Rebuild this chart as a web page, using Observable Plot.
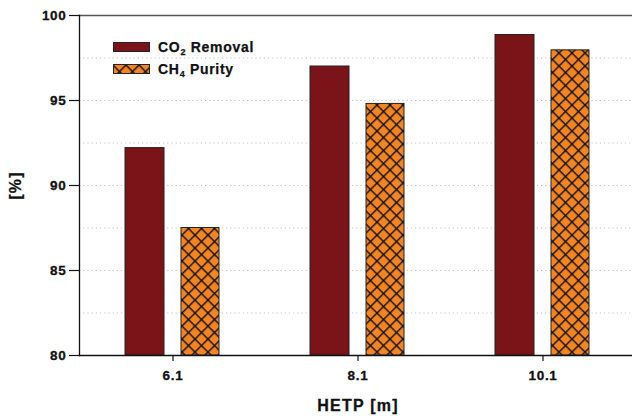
<!DOCTYPE html>
<html>
<head>
<meta charset="utf-8">
<script src="https://cdn.jsdelivr.net/npm/d3@7"></script>
<script src="https://cdn.jsdelivr.net/npm/@observablehq/plot@0.6"></script>
<style>
  html, body { margin: 0; padding: 0; background: #fff; }
  #wrap { position: relative; width: 632px; height: 417px; font-family: "Liberation Sans", Arial, sans-serif; }
  #legend { position: absolute; left: 113px; top: 36.5px; font-weight: bold; font-size: 14px; letter-spacing: 0.7px; color: #111; -webkit-text-stroke: 0.25px #111; }
  .row { display: flex; align-items: center; height: 21.5px; }
  .row svg { display: block; margin-right: 8px; }
  .row sub { font-size: 9px; vertical-align: -3px; line-height: 0; }
  #chart g[aria-label$="tick label"] text { letter-spacing: 0.7px; fill: #111; stroke: #111; stroke-width: 0.3px; }
  #chart g[aria-label="text"] text { stroke: #111; stroke-width: 0.3px; letter-spacing: 1.2px; }
</style>
</head>
<body>
<div id="wrap">
  <div id="chart"></div>
  <div id="legend"></div>
</div>
<script>
// ---- data ----
const hetp = ["6.1", "8.1", "10.1"];
const co2Removal = [92.2, 97.0, 98.85];
const ch4Purity = [87.5, 94.8, 97.95];
const yTicks = [80, 85, 90, 95, 100];
const yGrid = [82.5, 85, 87.5, 90, 92.5, 95, 97.5];
const seriesNames = ["CO\u2082 Removal", "CH\u2084 Purity"];

const co2Data = hetp.map((h, i) => ({hetp: h, value: co2Removal[i]}));
const ch4Data = hetp.map((h, i) => ({hetp: h, value: ch4Purity[i]}));

const RED = "#7B1418";
const ORANGE = "#F28522";
const font = "Liberation Sans, Arial, sans-serif";

const chart = Plot.plot({
  width: 632,
  height: 417,
  marginLeft: 79,
  marginRight: 0,
  marginTop: 15,
  marginBottom: 62,
  style: {fontFamily: font, background: "#fff", color: "#111"},
  x: {type: "band", domain: hetp, padding: 0, range: [80, 635], label: null},
  y: {domain: [80, 100], label: null},
  marks: [
    Plot.ruleY(yGrid, {stroke: "#c4c4c4", strokeWidth: 1, strokeDasharray: "1.2,3"}),
    Plot.barY(co2Data, {x: "hetp", y1: 80, y2: "value", fill: RED, stroke: "#222", strokeWidth: 1, insetLeft: 45, insetRight: 101}),
    Plot.barY(ch4Data, {x: "hetp", y1: 80, y2: "value", fill: "url(#xhatch)", stroke: "#222", strokeWidth: 1, insetLeft: 101, insetRight: 46}),
    Plot.frame({anchor: "top", stroke: "#555", strokeWidth: 1.5}),
    Plot.frame({anchor: "left", stroke: "#111", strokeWidth: 1.3}),
    Plot.frame({anchor: "bottom", stroke: "#111", strokeWidth: 1.3}),
    Plot.axisY({ticks: yTicks, tickSize: 10, tickPadding: 3, fontSize: 13.5, fontWeight: "bold", label: null, stroke: "#111", strokeWidth: 1.2}),
    Plot.axisX({tickSize: 6, tickPadding: 9, fontSize: 13.5, fontWeight: "bold", label: null, stroke: "#111", strokeWidth: 1.2}),
    Plot.text(["[%]"], {frameAnchor: "left", dx: -64, rotate: -90, textAnchor: "middle", lineAnchor: "middle", fontSize: 16, fontWeight: "bold", fill: "#111"}),
    Plot.text(["HETP [m]"], {frameAnchor: "bottom", dy: 50, dx: 2, textAnchor: "middle", lineAnchor: "middle", fontSize: 16, fontWeight: "bold", fill: "#111"})
  ]
});

const cs = d3.select(chart);

function addPattern(svgSel, id) {
  const s = 13 / Math.SQRT2;
  const p = svgSel.insert("defs", ":first-child").append("pattern")
    .attr("id", id).attr("patternUnits", "userSpaceOnUse")
    .attr("width", s).attr("height", s)
    .attr("patternTransform", "rotate(45)");
  p.append("rect").attr("width", s).attr("height", s).attr("fill", ORANGE);
  p.append("rect").attr("x", 0).attr("y", 0).attr("width", 1.4).attr("height", s).attr("fill", "#111");
  p.append("rect").attr("x", 0).attr("y", 0).attr("width", s).attr("height", 1.4).attr("fill", "#111");
}
addPattern(cs, "xhatch");
document.getElementById("chart").appendChild(chart);

// legend
const legend = d3.select("#legend");
const fills = [RED, "url(#xhatch2)"];
const labelsHtml = ["CO<sub>2</sub> Removal", "CH<sub>4</sub> Purity"];
seriesNames.forEach((name, i) => {
  const row = legend.append("div").attr("class", "row").attr("title", name);
  const sw = row.append("svg").attr("width", 37).attr("height", 10);
  if (i === 1) addPattern(sw, "xhatch2");
  sw.append("rect").attr("x", 0.5).attr("y", 0.5).attr("width", 36).attr("height", 9)
    .attr("fill", fills[i]).attr("stroke", "#222").attr("stroke-width", 1);
  row.append("span").html(labelsHtml[i]);
});
</script>
</body>
</html>
